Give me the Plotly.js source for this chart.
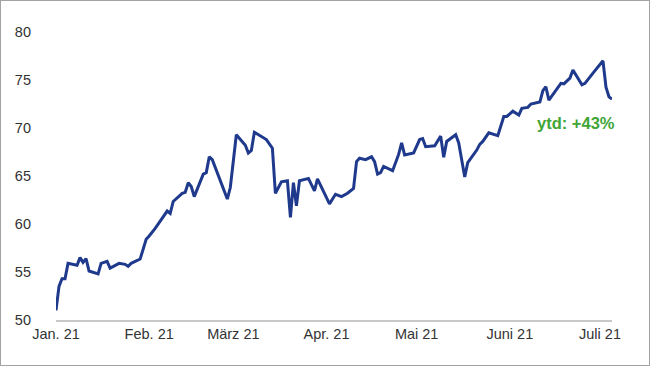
<!DOCTYPE html>
<html>
<head>
<meta charset="utf-8">
<script src="https://cdn.plot.ly/plotly-3.0.1.min.js"></script>
<style>
  html, body { margin: 0; padding: 0; background: #fff; }
  #chart { width: 650px; height: 366px; box-sizing: border-box; border: 1px solid #a3a3a3; }
</style>
</head>
<body>
<div id="chart"></div>
<script>
const dates = [
  "2021-01-01","2021-01-02","2021-01-03","2021-01-04","2021-01-05","2021-01-08","2021-01-09","2021-01-10","2021-01-11","2021-01-12",
  "2021-01-15","2021-01-16","2021-01-18","2021-01-19","2021-01-22","2021-01-24","2021-01-25","2021-01-26","2021-01-29","2021-01-31",
  "2021-02-01","2021-02-03","2021-02-07","2021-02-08","2021-02-09","2021-02-12","2021-02-13","2021-02-14","2021-02-15","2021-02-16",
  "2021-02-19","2021-02-20","2021-02-21","2021-02-22","2021-02-27","2021-02-28","2021-03-02","2021-03-05","2021-03-06","2021-03-07",
  "2021-03-08","2021-03-10","2021-03-12","2021-03-14","2021-03-15","2021-03-17","2021-03-19","2021-03-20","2021-03-21","2021-03-22",
  "2021-03-23","2021-03-26","2021-03-28","2021-03-29","2021-04-02","2021-04-04","2021-04-06","2021-04-08","2021-04-10","2021-04-11",
  "2021-04-12","2021-04-14","2021-04-16","2021-04-17","2021-04-18","2021-04-19","2021-04-20","2021-04-23","2021-04-25","2021-04-26",
  "2021-04-27","2021-04-30","2021-05-02","2021-05-03","2021-05-04","2021-05-07","2021-05-09","2021-05-10","2021-05-11","2021-05-14",
  "2021-05-15","2021-05-17","2021-05-18","2021-05-21","2021-05-22","2021-05-23","2021-05-25","2021-05-28","2021-05-30","2021-05-31",
  "2021-06-02","2021-06-04","2021-06-05","2021-06-07","2021-06-08","2021-06-11","2021-06-12","2021-06-13","2021-06-14","2021-06-18",
  "2021-06-19","2021-06-21","2021-06-22","2021-06-25","2021-06-26","2021-06-29","2021-07-02","2021-07-03","2021-07-04","2021-07-05"
];
const values = [
  51.0,53.5,54.3,54.3,55.9,55.7,56.5,56.0,56.4,55.1,
  54.8,55.9,56.1,55.4,55.9,55.8,55.6,55.9,56.35,58.4,
  58.75,59.55,61.35,61.1,62.35,63.2,63.3,64.3,63.9,62.85,
  65.2,65.35,67.0,66.7,62.6,63.8,69.3,68.2,67.4,67.65,
  69.55,69.2,68.8,67.9,63.2,64.4,64.5,60.7,64.3,61.9,
  64.5,64.75,63.45,64.7,62.1,63.1,62.85,63.2,63.7,66.5,
  66.85,66.7,67.0,66.5,65.2,65.35,66.0,65.55,67.25,68.45,
  67.2,67.4,68.8,68.9,68.05,68.15,69.15,66.95,68.6,69.3,
  68.45,64.9,66.4,67.7,68.3,68.6,69.5,69.2,71.2,71.2,
  71.75,71.35,72.05,72.15,72.5,72.7,73.9,74.3,72.9,74.65,
  74.6,75.2,76.05,74.5,74.65,75.85,77.0,74.25,73.25,73.0
];
const tickDates = ["2021-01-01","2021-02-01","2021-03-01","2021-04-01","2021-05-01","2021-06-01","2021-07-01"];
const tickLabels = ["Jan. 21","Feb. 21","März 21","Apr. 21","Mai 21","Juni 21","Juli 21"];
const yTicks = [50,55,60,65,70,75,80];
const annotationText = "ytd: +43%";

const trace = {
  x: dates, y: values, type: "scatter", mode: "lines",
  line: { color: "#1f3a8c", width: 3 },
  hoverinfo: "skip"
};

const layout = {
  width: 648, height: 364,
  margin: { l: 55, r: 37, t: 31, b: 45 },
  paper_bgcolor: "#ffffff", plot_bgcolor: "#ffffff",
  showlegend: false,
  font: { family: "Liberation Sans, Arial, sans-serif", size: 14.5, color: "#333333" },
  xaxis: {
    type: "date",
    range: ["2021-01-01", "2021-07-05"],
    tickvals: tickDates, ticktext: tickLabels,
    showgrid: false, zeroline: false,
    showline: true, linecolor: "#c8c8c8", linewidth: 2,
    ticks: "", tickfont: { size: 14.5, color: "#333333" }
  },
  yaxis: {
    range: [50, 80],
    tickvals: yTicks,
    showgrid: false, zeroline: false, showline: false,
    ticks: "", ticklabelstandoff: 24,
    tickfont: { size: 14.5, color: "#333333" }
  },
  annotations: [{
    text: "<b>" + annotationText + "</b>",
    xref: "paper", yref: "y",
    x: 0.936, y: 70.5, xanchor: "center", yanchor: "middle",
    showarrow: false,
    font: { size: 16.5, color: "#3fa535", family: "Liberation Sans, Arial, sans-serif" }
  }]
};

Plotly.newPlot("chart", [trace], layout, { displayModeBar: false, staticPlot: true });
</script>
</body>
</html>
